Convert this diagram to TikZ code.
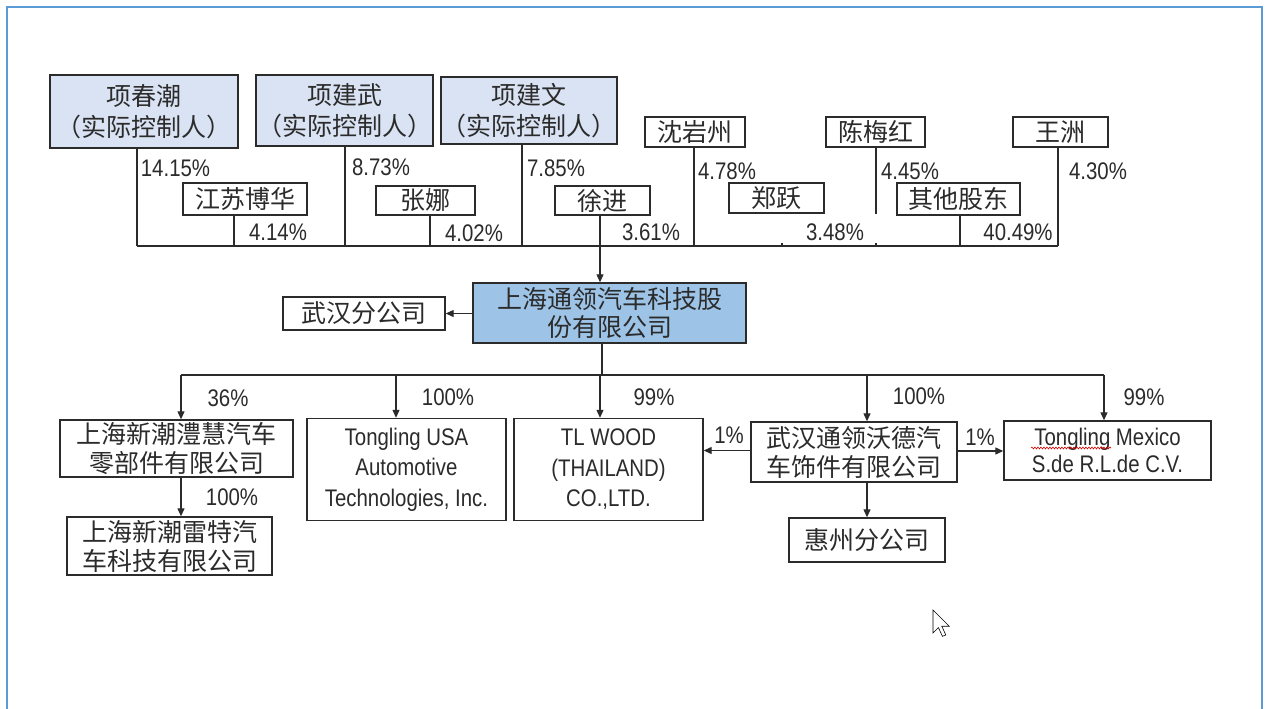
\documentclass[tikz,border=0pt]{standalone}
\usepackage{fontspec}
\setmainfont{Liberation Sans}[FakeStretch=0.85]
\newfontfamily\cjk{Noto Sans CJK SC}
\usetikzlibrary{arrows.meta,decorations.pathmorphing}
\definecolor{frameblue}{HTML}{5B9BD5}
\definecolor{lightblue}{HTML}{DAE3F3}
\definecolor{midblue}{HTML}{9DC3E6}
\definecolor{ink}{HTML}{2B2B2B}
\begin{document}
\begin{tikzpicture}[x=1pt,y=-1pt,
  box/.style={draw=ink, line width=1.4pt, inner sep=0pt, align=center, text=ink,
    font=\fontsize{25pt}{29pt}\selectfont\cjk},
  ownerbox/.style={box, fill=lightblue, font=\fontsize{25pt}{31pt}\selectfont\cjk},
  mainbox/.style={box, fill=midblue, font=\fontsize{25pt}{28pt}\selectfont\cjk},
  latinbox/.style={box, font=\fontsize{24pt}{30.5pt}\selectfont},
  lbl/.style={inner sep=0pt, text=ink, font=\fontsize{24pt}{27pt}\selectfont},
  conn/.style={draw=ink, line width=1.2pt},
  arr/.style={conn, -{Triangle[length=8pt,width=7pt]}}
]
\useasboundingbox (0,0) rectangle (1266,709);
\fill[white] (0,0) rectangle (1266,709);
% screen frame
\draw[frameblue, line width=2pt] (7,709) -- (7,7) -- (1262,7) -- (1262,709);

% shareholders
\node[ownerbox, minimum width=188pt, minimum height=73pt] (hcc) at (144,111.5) {项春潮\\（实际控制人）};
\node[ownerbox, minimum width=177pt, minimum height=71pt] (hjw) at (344.5,110.5) {项建武\\（实际控制人）};
\node[ownerbox, minimum width=176pt, minimum height=67pt] (hjwen) at (529,110.5) {项建文\\（实际控制人）};
\node[box, minimum width=100pt, minimum height=30pt] (syz) at (695,132) {沈岩州};
\node[box, minimum width=99pt, minimum height=30pt] (cmh) at (875.5,132) {陈梅红};
\node[box, minimum width=95pt, minimum height=30pt] (wz) at (1060.5,132) {王洲};
\node[box, minimum width=124pt, minimum height=32pt] (jsbh) at (245,199) {江苏博华};
\node[box, minimum width=99pt, minimum height=29pt] (zn) at (425.5,200.5) {张娜};
\node[box, minimum width=95pt, minimum height=29pt] (xj) at (602.5,200.5) {徐进};
\node[box, minimum width=95pt, minimum height=30pt] (zy) at (776.5,198) {郑跃};
\node[box, minimum width=123pt, minimum height=32pt] (qtgd) at (958.5,199) {其他股东};

% top bus
\coordinate (bA) at (137,246);
\coordinate (bB) at (234,246);
\coordinate (bC) at (345,246);
\coordinate (bD) at (430,246);
\coordinate (bE) at (522,246);
\coordinate (bM) at (600,246);
\coordinate (bF) at (694,246);
\coordinate (bG) at (782,246);
\coordinate (bH) at (876,246);
\coordinate (bI) at (960,246);
\coordinate (bK) at (1058,246);
\draw[conn] (bA) -- (bK);
\draw[conn] (hcc.south -| bA) -- (bA);
\draw[conn] (jsbh.south -| bB) -- (bB);
\draw[conn] (hjw.south -| bC) -- (bC);
\draw[conn] (zn.south -| bD) -- (bD);
\draw[conn] (hjwen.south -| bE) -- (bE);
\draw[conn] (syz.south -| bF) -- (bF);
\draw[conn] ([yshift=3pt]bG) -- (bG);
\draw[conn] (cmh.south -| bH) -- ([yshift=32pt]bH);
\draw[conn] ([yshift=3pt]bH) -- (bH);
\draw[conn] (qtgd.south -| bI) -- (bI);
\draw[conn] (wz.south -| bK) -- (bK);

\node[lbl] at (175.5,168) {14.15\%};
\node[lbl] at (278,232) {4.14\%};
\node[lbl] at (381,167) {8.73\%};
\node[lbl] at (474,233) {4.02\%};
\node[lbl] at (556,168) {7.85\%};
\node[lbl] at (651,232) {3.61\%};
\node[lbl] at (727,171) {4.78\%};
\node[lbl] at (835,232) {3.48\%};
\node[lbl] at (910,171) {4.45\%};
\node[lbl] at (1018,232) {40.49\%};
\node[lbl] at (1098,171) {4.30\%};

% main company
\node[mainbox, minimum width=273pt, minimum height=60pt] (main) at (609.5,313) {上海通领汽车科技股\\份有限公司};
\node[box, minimum width=162pt, minimum height=33pt] (whfgs) at (364,313.5) {武汉分公司};
\draw[arr] (xj.south -| bM) -- (main.north -| bM);
\draw[arr] (main.west |- whfgs) -- (whfgs.east);

% subsidiaries
\node[box, minimum width=233pt, minimum height=57pt] (xcl) at (176.5,448.5) {上海新潮澧慧汽车\\零部件有限公司};
\node[box, minimum width=205pt, minimum height=58pt] (xclt) at (169.5,546) {上海新潮雷特汽\\车科技有限公司};
\node[latinbox, minimum width=199pt, minimum height=102pt] (usa) at (406.5,469.5) {Tongling USA\\Automotive\\Technologies, Inc.};
\node[latinbox, minimum width=189pt, minimum height=102pt] (tlw) at (608.5,469.5) {TL WOOD\\(THAILAND)\\CO.,LTD.};
\node[box, minimum width=206pt, minimum height=60pt] (whtl) at (854,452) {武汉通领沃德汽\\车饰件有限公司};
\node[latinbox, font=\fontsize{24pt}{27pt}\selectfont, minimum width=207pt, minimum height=59pt] (mex) at (1107.5,450.5) {Tongling Mexico\\S.de R.L.de C.V.};
\node[box, minimum width=156pt, minimum height=44pt] (hz) at (867,540) {惠州分公司};

\coordinate (c0) at (602,375);
\coordinate (cL) at (181,375);
\coordinate (cU) at (396,375);
\coordinate (cT) at (600,375);
\coordinate (cW) at (867,375);
\coordinate (cR) at (1104,375);
\draw[conn] (main.south -| c0) -- (c0);
\draw[conn] (cL) -- (cR);
\draw[arr] (cL) -- (xcl.north -| cL);
\draw[arr] (cU) -- (usa.north -| cU);
\draw[arr] (cT) -- (tlw.north -| cT);
\draw[arr] (cW) -- (whtl.north -| cW);
\draw[arr] (cR) -- (mex.north -| cR);
\draw[arr] (xcl.south -| cL) -- (xclt.north -| cL);
\draw[arr] (whtl.south -| cW) -- (hz.north -| cW);
\draw[arr] ([yshift=1.5pt]whtl.west) -- ([yshift=1.5pt]tlw.east |- whtl.west);
\draw[arr] ([yshift=1pt]whtl.east) -- ([yshift=1pt]mex.west |- whtl.east);

\node[lbl] at (228,398) {36\%};
\node[lbl] at (448,397) {100\%};
\node[lbl] at (654,397) {99\%};
\node[lbl] at (232,497) {100\%};
\node[lbl] at (729,435) {1\%};
\node[lbl] at (919,396) {100\%};
\node[lbl] at (1144,397) {99\%};
\node[lbl] at (980,437) {1\%};

% spell-check squiggle
\draw[red!85!black, line width=0.6pt, decorate, decoration={snake, amplitude=0.9pt, segment length=3pt}] (1031,448) -- (1111,448);

% mouse pointer
\begin{scope}[shift={(933,610)}, scale=1.35]
\draw[black, fill=white, line width=0.6pt, line join=miter]
  (0,0) -- (0,17) -- (4,13) -- (7,19.5) -- (9.5,18.5) -- (6.5,12) -- (12,12) -- cycle;
\end{scope}
\end{tikzpicture}
\end{document}
